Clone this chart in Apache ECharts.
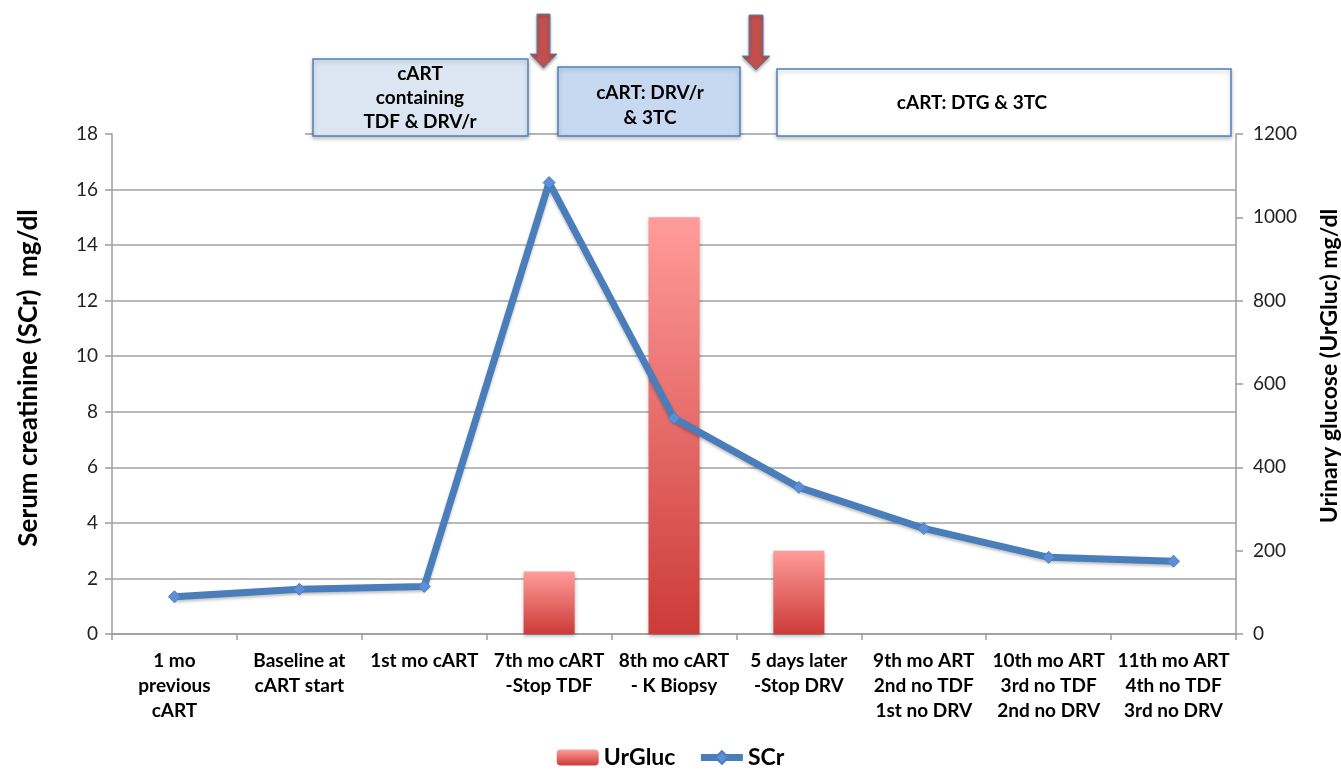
<!DOCTYPE html>
<html>
<head>
<meta charset="utf-8">
<script src="https://cdn.jsdelivr.net/npm/echarts@6/dist/echarts.min.js"></script>
<style>
html,body{margin:0;padding:0;background:#fff;}
#chart{width:1341px;height:771px;}
</style>
</head>
<body>
<div id="chart"></div>
<script>
const categories = [
  '1 mo\nprevious\ncART',
  'Baseline at\ncART start',
  '1st mo cART',
  '7th mo cART\n-Stop TDF',
  '8th mo cART\n- K Biopsy',
  '5 days later\n-Stop DRV',
  '9th mo ART\n2nd no TDF\n1st no DRV',
  '10th mo ART\n3rd no TDF\n2nd no DRV',
  '11th mo ART\n4th no TDF\n3rd no DRV'
];
const scrValues = [1.34, 1.61, 1.71, 16.25, 7.77, 5.28, 3.80, 2.76, 2.62];
const urglucValues = [null, null, null, 150, 1000, 200, null, null, null];
const leftTicks = {min: 0, max: 18, interval: 2};
const rightTicks = {min: 0, max: 1200, interval: 200};
const leftAxisTitle = 'Serum creatinine (SCr)  mg/dl';
const rightAxisTitle = 'Urinary glucose (UrGluc) mg/dl';
const boxTexts = ['cART\ncontaining\nTDF & DRV/r', 'cART: DRV/r\n& 3TC', 'cART: DTG & 3TC'];

const FONT = 'Lato, "Open Sans", sans-serif';
const chart = echarts.init(document.getElementById('chart'));

const barGradient = new echarts.graphic.LinearGradient(0, 0, 0, 1, [
  {offset: 0, color: '#FF9C9A'},
  {offset: 1, color: '#CC3B38'}
]);

chart.setOption({
  animation: false,
  grid: {left: 112, right: 105, top: 134, bottom: 137, outerBoundsMode: 'none', containLabel: false},
  legend: {
    data: ['UrGluc', {name: 'SCr', lineStyle: {width: 7}}],
    top: 741,
    left: 'center',
    itemWidth: 42,
    itemHeight: 16,
    itemGap: 22,
    textStyle: {fontFamily: FONT, fontWeight: 'bold', fontSize: 23, color: '#000'}
  },
  xAxis: {
    type: 'category',
    data: categories,
    boundaryGap: true,
    axisLine: {lineStyle: {color: '#9C9C9C', width: 1.5}},
    axisTick: {show: true, alignWithLabel: false, length: 6, lineStyle: {color: '#9C9C9C', width: 1.5}},
    axisLabel: {interval: 0, fontFamily: FONT, fontWeight: 'bold', fontSize: 19, color: '#000', lineHeight: 25, margin: 14}
  },
  yAxis: [
    {
      type: 'value',
      min: leftTicks.min, max: leftTicks.max, interval: leftTicks.interval,
      axisLine: {show: true, lineStyle: {color: '#9C9C9C', width: 1.5}},
      axisTick: {show: true, length: 7, lineStyle: {color: '#9C9C9C', width: 1.5}},
      axisLabel: {fontFamily: FONT, fontSize: 19, color: '#222', margin: 14},
      splitLine: {show: true, showMaxLine: false, lineStyle: {color: '#A3A3A3', width: 1.5}}
    },
    {
      type: 'value',
      min: rightTicks.min, max: rightTicks.max, interval: rightTicks.interval,
      axisLine: {show: true, lineStyle: {color: '#9C9C9C', width: 1.5}},
      axisTick: {show: true, length: 7, lineStyle: {color: '#9C9C9C', width: 1.5}},
      axisLabel: {fontFamily: FONT, fontSize: 19, color: '#222', margin: 17, formatter: v => String(v)},
      splitLine: {show: false}
    }
  ],
  series: [
    {
      name: 'UrGluc',
      type: 'bar',
      yAxisIndex: 1,
      data: urglucValues,
      barWidth: 51,
      itemStyle: {
        color: barGradient,
        shadowBlur: 4, shadowColor: 'rgba(0,0,0,0.3)', shadowOffsetY: 2
      },
      z: 2
    },
    {
      name: 'SCr',
      type: 'line',
      yAxisIndex: 0,
      data: scrValues,
      symbol: 'diamond',
      symbolSize: 12,
      lineStyle: {color: '#4A7EBB', width: 7, shadowBlur: 3, shadowColor: 'rgba(0,0,0,0.25)', shadowOffsetY: 2},
      itemStyle: {color: '#5C8FD8', borderColor: '#4A7EBB', borderWidth: 1},
      z: 3
    }
  ],
  graphic: [
    {type: 'text', x: 29, y: 378, rotation: Math.PI / 2,
     style: {text: leftAxisTitle, fontFamily: FONT, fontWeight: 'bold', fontSize: 26, fill: '#000', align: 'center', verticalAlign: 'middle'}},
    {type: 'text', x: 1330, y: 366, rotation: Math.PI / 2,
     style: {text: rightAxisTitle, fontFamily: FONT, fontWeight: 'bold', fontSize: 23, fill: '#000', align: 'center', verticalAlign: 'middle'}},
    {type: 'line', shape: {x1: 305, y1: 134, x2: 777, y2: 134}, style: {stroke: '#9C9C9C', lineWidth: 1.5}, z: 1},
    {type: 'rect', shape: {x: 313, y: 59, width: 215, height: 77},
     style: {fill: '#DCE6F2', stroke: '#4F81BD', lineWidth: 1.5, shadowBlur: 4, shadowColor: 'rgba(0,0,0,0.25)', shadowOffsetY: 2}, z: 10},
    {type: 'text', x: 420, y: 98, style: {text: boxTexts[0], fontFamily: FONT, fontWeight: 'bold', fontSize: 19, lineHeight: 24, fill: '#000', align: 'center', verticalAlign: 'middle'}, z: 11},
    {type: 'rect', shape: {x: 558, y: 67, width: 182, height: 69},
     style: {fill: '#C6D9F1', stroke: '#4F81BD', lineWidth: 1.5, shadowBlur: 4, shadowColor: 'rgba(0,0,0,0.25)', shadowOffsetY: 2}, z: 10},
    {type: 'text', x: 650, y: 105, style: {text: boxTexts[1], fontFamily: FONT, fontWeight: 'bold', fontSize: 19, lineHeight: 25, fill: '#000', align: 'center', verticalAlign: 'middle'}, z: 11},
    {type: 'rect', shape: {x: 777, y: 69, width: 454, height: 67},
     style: {fill: '#FFFFFF', stroke: '#4F81BD', lineWidth: 1.5, shadowBlur: 4, shadowColor: 'rgba(0,0,0,0.25)', shadowOffsetY: 2}, z: 10},
    {type: 'text', x: 972, y: 103, style: {text: boxTexts[2], fontFamily: FONT, fontWeight: 'bold', fontSize: 19, fill: '#000', align: 'center', verticalAlign: 'middle'}, z: 11},
    {type: 'polygon', shape: {points: [[537,14],[550,14],[550,54],[557,54],[543.5,68],[530,54],[537,54]]},
     style: {fill: '#C0504D', stroke: '#4F81BD', lineWidth: 1, shadowBlur: 3, shadowColor: 'rgba(0,0,0,0.3)', shadowOffsetY: 2}, z: 12},
    {type: 'polygon', shape: {points: [[749,15],[763,15],[763,56],[770,56],[756,70],[742,56],[749,56]]},
     style: {fill: '#C0504D', stroke: '#4F81BD', lineWidth: 1, shadowBlur: 3, shadowColor: 'rgba(0,0,0,0.3)', shadowOffsetY: 2}, z: 12}
  ]
});
</script>
</body>
</html>
